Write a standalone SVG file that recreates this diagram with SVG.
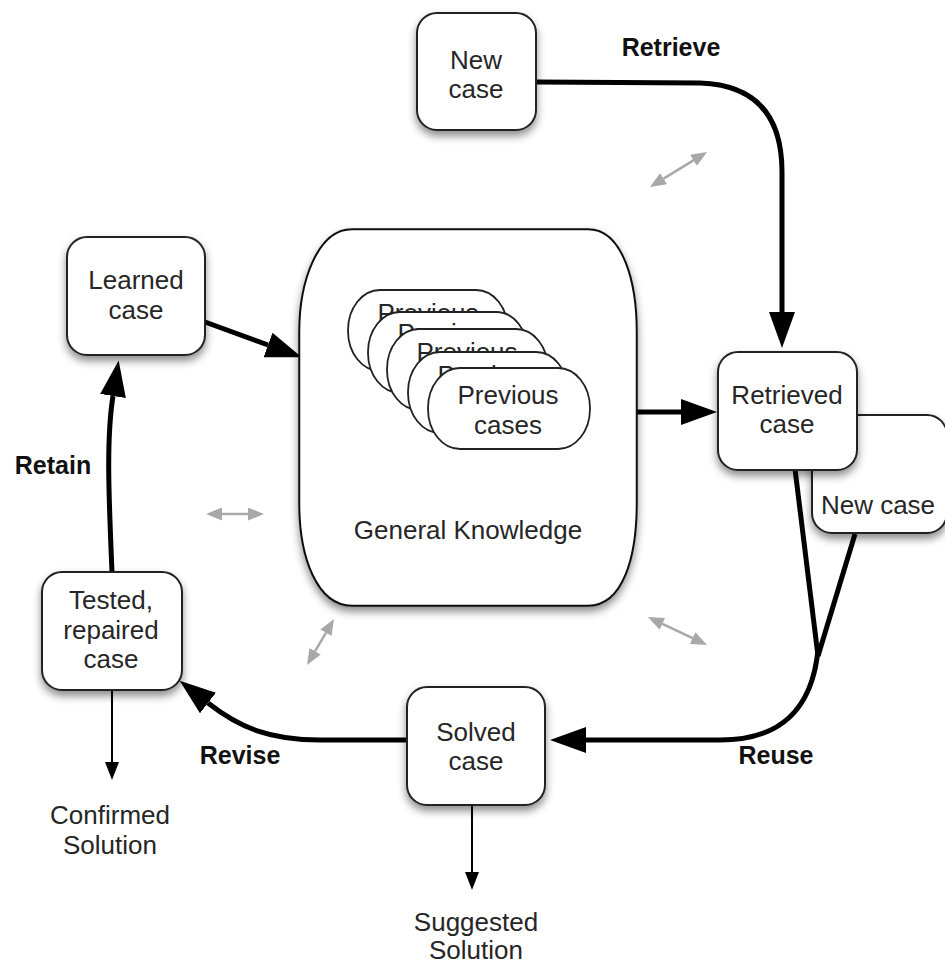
<svg xmlns="http://www.w3.org/2000/svg" width="945" height="964" viewBox="0 0 945 964">
  <defs>
    <filter id="shadow" x="-20%" y="-20%" width="140%" height="150%">
      <feDropShadow dx="0" dy="5" stdDeviation="4" flood-color="#000" flood-opacity="0.45"/>
    </filter>
    <filter id="soft" x="-20%" y="-20%" width="140%" height="140%">
      <feGaussianBlur stdDeviation="0.6"/>
    </filter>
    <!-- heavy arrowhead: its base sits at the path end -->
    <marker id="head" viewBox="0 0 36 26" refX="0" refY="13" markerWidth="36" markerHeight="26" markerUnits="userSpaceOnUse" orient="auto">
      <path d="M0,0 L36,13 L0,26 Z" fill="#000"/>
    </marker>
    <marker id="thin" viewBox="0 0 18 14" refX="0" refY="7" markerWidth="18" markerHeight="14" markerUnits="userSpaceOnUse" orient="auto">
      <path d="M0,0 L18,7 L0,14 Z" fill="#000"/>
    </marker>
    <marker id="grey" viewBox="0 0 16 13" refX="0" refY="6.5" markerWidth="16" markerHeight="13" markerUnits="userSpaceOnUse" orient="auto-start-reverse">
      <path d="M0,0 L16,6.5 L0,13 Z" fill="#a8a8a8"/>
    </marker>
    <path id="gk-outline" d="M352,232 H588 C620,232 634,282 634,332 V503 C634,558 620,603 588,603 H352 C320,603 302,558 302,503 V332 C302,282 320,232 352,232 Z"/>
  </defs>
  <style>
    text { font-family: "Liberation Sans", Arial, Helvetica, sans-serif; }
    .t { font-size: 26px; fill: #262626; text-anchor: middle; }
    .lbl { font-size: 25px; font-weight: bold; fill: #111; text-anchor: middle; }
    .box { fill: #fff; stroke: #222; stroke-width: 2; }
    .card { fill: #fff; stroke: #222; stroke-width: 1.8; }
    .heavy { fill: none; stroke: #000; stroke-width: 5; marker-end: url(#head); }
    .plain { fill: none; stroke: #000; stroke-width: 5; }
    .fine { fill: none; stroke: #000; stroke-width: 2; marker-end: url(#thin); }
    .dbl { fill: none; stroke: #a8a8a8; stroke-width: 2.5; marker-start: url(#grey); marker-end: url(#grey); }
  </style>
  <rect width="945" height="964" fill="#fff"/>

  <!-- connectors -->
  <g id="connectors">
    <!-- Retrieve -->
    <path class="heavy" d="M537,82 L700,83 C760,85 782,120 782,172 L782,312"/>
    <!-- Learned case into knowledge base -->
    <path class="heavy" d="M205,322 L268,345"/>
    <!-- knowledge base to retrieved case -->
    <path class="heavy" d="M634,412 L681,412"/>
    <!-- Retain -->
    <path class="heavy" d="M112,572 C109,500 106,440 113,396"/>
    <!-- Reuse: two branches joining -->
    <path class="plain" d="M795,469 L818,656"/>
    <path class="plain" d="M855,534 L818,656"/>
    <path class="heavy" d="M818,650 C812,710 780,740 720,740 L586,740"/>
    <!-- Revise -->
    <path class="heavy" d="M407,740 L320,740 C270,740 240,728 208,703"/>
    <!-- outputs -->
    <path class="fine" d="M472,805 L472,872"/>
    <path class="fine" d="M112,690 L112,762"/>
    <!-- grey exchange arrows -->
    <g filter="url(#soft)">
      <path class="dbl" d="M663.6,178.6 L693.4,160.4"/>
      <path class="dbl" d="M222,514 L248,514"/>
      <path class="dbl" d="M315.1,651.2 L325.9,632.8"/>
      <path class="dbl" d="M662.4,623.9 L692.6,638.1"/>
    </g>
  </g>

  <!-- knowledge base container with a double border -->
  <g id="general-knowledge">
    <use href="#gk-outline" fill="#fff" stroke="#111" stroke-width="7.5" filter="url(#shadow)"/>
    <use href="#gk-outline" fill="#fff" stroke="#fff" stroke-width="3.5"/>
    <text class="t" x="468" y="539">General Knowledge</text>
  </g>

  <!-- stacked case cards -->
  <g id="previous-cases">
    <rect class="card" x="348" y="290" width="160" height="81" rx="32" ry="40"/>
    <text class="t" x="428" y="321.6">Previous</text>
    <rect class="card" x="368" y="312" width="160" height="81" rx="32" ry="40"/>
    <text class="t" x="448" y="341.6">Previous</text>
    <rect class="card" x="387" y="329" width="161" height="81" rx="32" ry="40"/>
    <text class="t" x="467" y="360.6">Previous</text>
    <rect class="card" x="408" y="352" width="160" height="81" rx="32" ry="40"/>
    <text class="t" x="488" y="383.6">Previous</text>
    <rect class="card" x="428" y="368" width="162" height="81" rx="32" ry="40"/>
    <text class="t" x="508" y="404">Previous</text>
    <text class="t" x="508" y="434">cases</text>
  </g>

  <g id="new-case">
    <rect class="box" x="417" y="13" width="119" height="117" rx="20" filter="url(#shadow)"/>
    <text class="t" x="476" y="69">New</text>
    <text class="t" x="476" y="98">case</text>
  </g>

  <g id="learned-case">
    <rect class="box" x="67" y="237" width="138" height="118" rx="20" filter="url(#shadow)"/>
    <text class="t" x="136" y="289">Learned</text>
    <text class="t" x="136" y="319">case</text>
  </g>

  <g id="tested-case">
    <rect class="box" x="42" y="572" width="140" height="118" rx="20" filter="url(#shadow)"/>
    <text class="t" x="111" y="609">Tested,</text>
    <text class="t" x="111" y="639">repaired</text>
    <text class="t" x="111" y="668">case</text>
  </g>

  <g id="solved-case">
    <rect class="box" x="407" y="687" width="138" height="118" rx="20" filter="url(#shadow)"/>
    <text class="t" x="476" y="741">Solved</text>
    <text class="t" x="476" y="770">case</text>
  </g>

  <g id="new-case-copy">
    <rect class="box" x="812" y="415" width="135" height="118" rx="20" filter="url(#shadow)"/>
    <text class="t" x="878" y="514">New case</text>
  </g>

  <g id="retrieved-case">
    <rect class="box" x="718" y="352" width="139" height="118" rx="20" filter="url(#shadow)"/>
    <text class="t" x="787" y="404">Retrieved</text>
    <text class="t" x="787" y="433">case</text>
  </g>

  <!-- step labels and outputs -->
  <g id="labels">
    <text class="lbl" x="671" y="56">Retrieve</text>
    <text class="lbl" x="53" y="474">Retain</text>
    <text class="lbl" x="240" y="764">Revise</text>
    <text class="lbl" x="776" y="764">Reuse</text>
    <text class="t" x="110" y="824">Confirmed</text>
    <text class="t" x="110" y="854">Solution</text>
    <text class="t" x="476" y="931">Suggested</text>
    <text class="t" x="476" y="959">Solution</text>
  </g>
</svg>
